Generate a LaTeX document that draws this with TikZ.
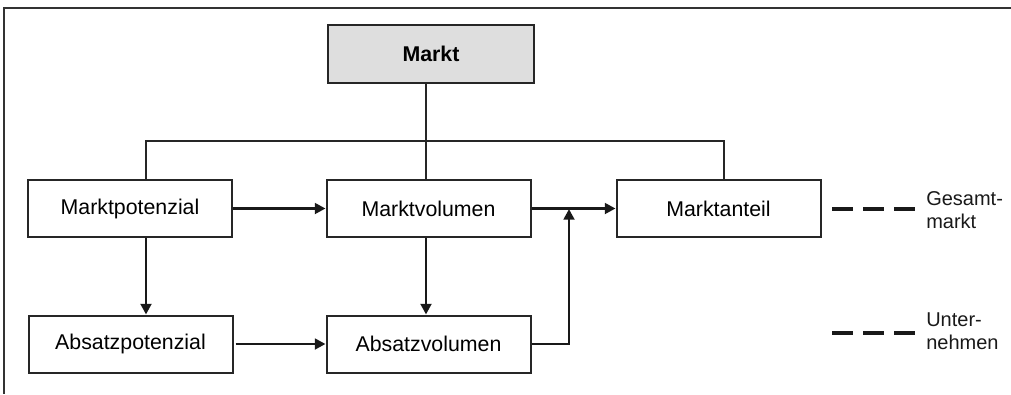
\documentclass[tikz,border=0pt]{standalone}
\usepackage{fontspec}
\setmainfont{Liberation Sans}
\usetikzlibrary{arrows.meta}
\begin{document}
\begin{tikzpicture}[x=0.75pt,y=-0.75pt,
  box/.style={draw=black!85, line width=1.5pt, minimum width=153pt, minimum height=42.75pt,
    inner sep=0pt, font=\fontsize{16}{19}\selectfont},
  arr/.style={draw=black!90, line width=2pt, -{Triangle[length=8pt,width=8pt]}},
  conn/.style={draw=black!85, line width=1.4pt},
  legend/.style={draw=black!90, line width=2.3pt, dash pattern=on 15.75pt off 7.5pt},
  legtext/.style={anchor=west, align=left, inner sep=0pt, text=black!90,
    font=\fontsize{15}{17.2}\selectfont},
  frame/.style={draw=black!80, line width=1.3pt}]
\useasboundingbox (0,0) rectangle (1011,394);
\draw[frame] (1011,8) -- (4,8) -- (4,394);
\node[box, fill=black!13, minimum width=154.5pt, minimum height=43.5pt,
  font=\fontsize{16}{19}\selectfont\bfseries] (markt) at (431,54) {Markt};
\node[box] (mpot) at (130,208.5) {Marktpotenzial};
\node[box] (mvol) at (428.5,208.5) {Marktvolumen};
\node[box] (mant) at (718.5,208.5) {Marktanteil};
\node[box] (apot) at (130.5,344) {Absatzpotenzial};
\node[box] (avol) at (428.5,344) {Absatzvolumen};
\coordinate (jl) at (146,141);
\coordinate (jm) at (426,141);
\coordinate (jr) at (724,141);
\coordinate (jb) at (569,209);
\draw[conn] (markt.south -| jm) -- (mvol.north -| jm);
\draw[conn] (mpot.north -| jl) -- (jl) -- (jr) -- (mant.north -| jr);
\draw[arr] (mpot.east) -- (mvol.west);
\draw[arr] (mvol.east) -- (mant.west);
\draw[arr] (mpot.south -| jl) -- (apot.north -| jl);
\draw[arr] (mvol.south -| jm) -- (avol.north -| jm);
\draw[arr] ([xshift=1.5pt]apot.east) -- (avol.west);
\draw[arr] (avol.east) -| (jb);
\coordinate (g1) at (832,209);
\coordinate (g2) at (916,209);
\coordinate (u1) at (832,333);
\coordinate (u2) at (916,333);
\draw[legend] (g1) -- (g2);
\draw[legend] (u1) -- (u2);
\node[legtext] (gtext) at (926,210.5) {Gesamt-\\markt};
\node[legtext] (utext) at (926,331.5) {Unter-\\nehmen};
\end{tikzpicture}
\end{document}
